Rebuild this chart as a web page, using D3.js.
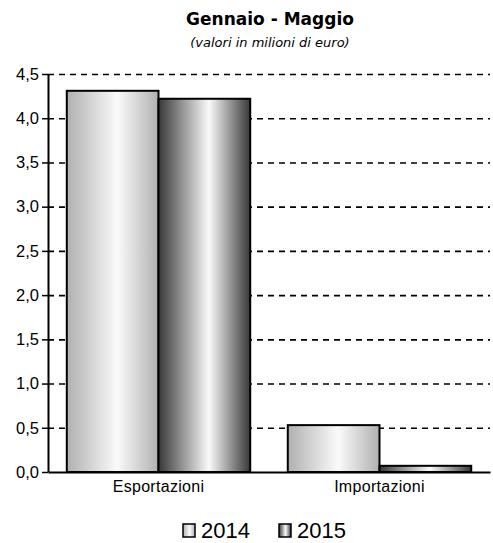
<!DOCTYPE html>
<html lang="it">
<head>
<meta charset="utf-8">
<title>Gennaio - Maggio</title>
<script src="https://cdn.jsdelivr.net/npm/d3@7"></script>
<style>
  body { margin: 0; background: #fff; }
  text { font-family: "Liberation Sans", Arial, sans-serif; fill: #000; }
  .title { font-family: "DejaVu Sans", Verdana, sans-serif; font-weight: bold; font-size: 17px; }
  .sub { font-family: "DejaVu Sans", Verdana, sans-serif; font-style: italic; font-size: 13px; }
</style>
</head>
<body>
<script>
// data
var categories = ["Esportazioni", "Importazioni"];
var years = ["2014", "2015"];
var values2014 = [4.31, 0.53];
var values2015 = [4.22, 0.07];
var yTicks = [0, 0.5, 1, 1.5, 2, 2.5, 3, 3.5, 4, 4.5];

var width = 493, height = 543;
var margin = {top: 74, right: 3, bottom: 71, left: 48};
var w = width - margin.left - margin.right,
    h = height - margin.top - margin.bottom;

var svg = d3.select("body").append("svg")
    .attr("width", width).attr("height", height);

// gradients, one per year
var defs = svg.append("defs");
function gradient(id, edge, mid) {
  var g = defs.append("linearGradient").attr("id", id)
      .attr("x1", "0%").attr("x2", "100%").attr("y1", "0%").attr("y2", "0%");
  g.append("stop").attr("offset", "0%").attr("stop-color", edge);
  g.append("stop").attr("offset", "55%").attr("stop-color", mid);
  g.append("stop").attr("offset", "100%").attr("stop-color", edge);
}
gradient("g2014", "#b0b0b0", "#fafafa");
gradient("g2015", "#383838", "#fafafa");

svg.append("text").attr("class", "title")
    .attr("x", margin.left + w / 2 + 1).attr("y", 25)
    .attr("text-anchor", "middle").text("Gennaio - Maggio");
svg.append("text").attr("class", "sub")
    .attr("x", margin.left + w / 2 + 1).attr("y", 47)
    .attr("text-anchor", "middle").text("(valori in milioni di euro)");

var g = svg.append("g").attr("transform", "translate(" + margin.left + "," + margin.top + ")");

var y = d3.scaleLinear().domain([0, 4.5]).range([h, 0]);
var x0 = d3.scaleBand().domain(categories).range([0, w]).paddingInner(0.17).paddingOuter(0.085);
var x1 = d3.scaleBand().domain(years).range([0, x0.bandwidth()]).padding(0);

// gridlines
g.append("g").selectAll("line")
  .data(yTicks.filter(function(d){ return d > 0; }))
  .enter().append("line")
  .attr("x1", 0).attr("x2", w)
  .attr("y1", function(d){ return y(d) + 0.5; })
  .attr("y2", function(d){ return y(d) + 0.5; })
  .attr("stroke", "#000").attr("stroke-width", 1.6)
  .attr("stroke-dasharray", "6,5");

// bars
var series = [values2014, values2015];
var grp = g.append("g").selectAll("g")
  .data(categories)
  .enter().append("g")
  .attr("transform", function(d){ return "translate(" + x0(d) + ",0)"; });

grp.selectAll("rect")
  .data(function(d, i){ return years.map(function(yr, j){ return {year: yr, value: series[j][i]}; }); })
  .enter().append("rect")
  .attr("x", function(d){ return x1(d.year); })
  .attr("width", x1.bandwidth())
  .attr("y", function(d){ return y(d.value); })
  .attr("height", function(d){ return h - y(d.value); })
  .attr("fill", function(d){ return "url(#g" + d.year + ")"; })
  .attr("stroke", "#000").attr("stroke-width", 2);

// y axis
var yAxis = g.append("g")
  .call(d3.axisLeft(y).tickValues(yTicks).tickSize(6).tickSizeOuter(0).tickPadding(3)
        .tickFormat(function(d){ return d3.format(".1f")(d).replace(".", ","); }));
yAxis.select(".domain").attr("stroke-width", 2);
yAxis.selectAll(".tick line").attr("stroke-width", 1.5);
yAxis.selectAll("text").attr("font-size", 16.5).attr("font-family", "Liberation Sans, Arial, sans-serif");

// x axis
var xAxis = g.append("g").attr("transform", "translate(0," + h + ")")
  .call(d3.axisBottom(x0).tickSize(0).tickSizeOuter(0).tickPadding(9));
xAxis.select(".domain").attr("stroke-width", 2);
xAxis.selectAll("text").attr("font-size", 16).attr("letter-spacing", "0.3")
  .attr("font-family", "Liberation Sans, Arial, sans-serif");

// legend
var legend = svg.append("g").attr("transform", "translate(183,522)");
var items = legend.selectAll("g").data(years).enter().append("g")
  .attr("transform", function(d, i){ return "translate(" + (i * 96) + ",0)"; });
items.append("rect").attr("y", 2).attr("width", 12).attr("height", 13)
  .attr("fill", function(d){ return "url(#g" + d + ")"; })
  .attr("stroke", "#000").attr("stroke-width", 1.5);
items.append("text").attr("x", 18).attr("y", 16)
  .attr("font-size", 22).text(function(d){ return d; });
</script>
</body>
</html>
